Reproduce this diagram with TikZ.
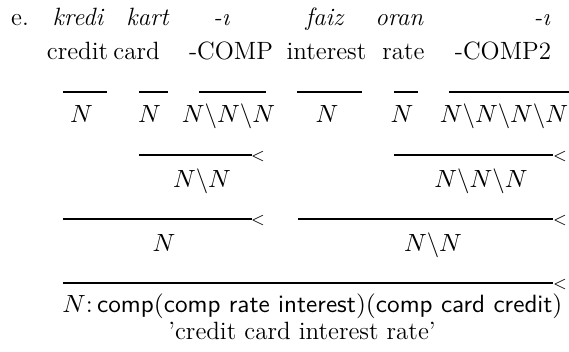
\documentclass[tikz,border=0pt]{standalone}
\usepackage{fontspec}
\usepackage{graphicx}
\begin{document}
\begin{tikzpicture}[x=0.44pt,y=-0.44pt,
  every node/.style={inner sep=0pt, font=\fontsize{11}{13}\selectfont},
  wd/.style={anchor=base},
  cat/.style={anchor=base},
  bar/.style={line width=1pt},
  lt/.style={anchor=center, font=\fontsize{7}{7}\selectfont}]
\useasboundingbox (0,0) rectangle (569,352);
% row 1
\node[wd] (e) at (20,26) {e.};
\node[wd] (kredi) at (78.5,26) {\textit{kredi}};
\node[wd] (kart) at (148,26) {\textit{kart}};
\node[wd] (c1) at (221.5,26) {\textit{-\i}};
\node[wd] (faiz) at (325,26) {\textit{faiz}};
\node[wd] (oran) at (399.5,26) {\textit{oran}};
\node[wd] (c2) at (542,26) {\textit{-\i}};
% row 2
\node[wd] (credit) at (77.5,60) {credit};
\node[wd] (card) at (136.5,60) {card};
\node[wd] (comp1) at (231,60) {-COMP};
\node[wd] (interest) at (326.5,60) {interest};
\node[wd] (rate) at (403.5,60) {rate};
\node[wd] (comp2) at (503,60) {-COMP2};
% lexical lines
\draw[bar] (63,92) -- (107,92);
\draw[bar] (139,92) -- (168,92);
\draw[bar] (199,92) -- (266,92);
\draw[bar] (297,92) -- (362,92);
\draw[bar] (394,92) -- (418,92);
\draw[bar] (449,92) -- (569,92);
\node[cat] (n1) at (81.5,123) {$N$};
\node[cat] (n2) at (149.5,123) {$N$};
\node[cat] (n3) at (228.5,123) {$N\backslash N\backslash N$};
\node[cat] (n4) at (327,123) {$N$};
\node[cat] (n5) at (402,123) {$N$};
\node[cat] (n6) at (504,123) {$N\backslash N\backslash N\backslash N$};
% level 2
\draw[bar] (139,155) -- (252,155);
\node[lt] (lt1) at (258,157) {$<$};
\draw[bar] (394,155) -- (553,155);
\node[lt] (lt2) at (560,157) {$<$};
\node[cat] (n7) at (202,188) {$N\backslash N$};
\node[cat] (n8) at (481,188) {$N\backslash N\backslash N$};
% level 3
\draw[bar] (63,219) -- (252,219);
\node[lt] (lt3) at (258,221) {$<$};
\draw[bar] (298,219) -- (553,219);
\node[lt] (lt4) at (560,221) {$<$};
\node[cat] (n9) at (164,252) {$N$};
\node[cat] (n10) at (433,252) {$N\backslash N$};
% level 4
\draw[bar] (63,283) -- (553,283);
\node[lt] (lt5) at (560,285) {$<$};
\node[anchor=base west] (sem) at (62,313) {\resizebox{220pt}{\height}{$N$:\,\textsf{comp}$($\textsf{comp rate interest}$)($\textsf{comp card credit}$)$}};
\node[cat] (gloss) at (302,340) {’credit card interest rate’};
\end{tikzpicture}
\end{document}
